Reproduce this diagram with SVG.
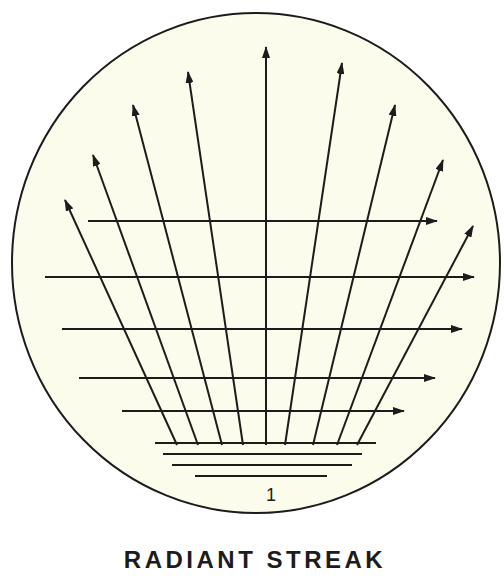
<svg xmlns="http://www.w3.org/2000/svg" width="504" height="579" viewBox="0 0 504 579">
<style>
.ln{stroke:#1c1c1c;stroke-width:2;fill:none}
.ar{stroke:#1c1c1c;stroke-width:2;fill:none;marker-end:url(#ah)}
.lbl{font-family:"Liberation Sans",Arial,sans-serif;fill:#1c1c1c}
</style>
<defs>
<marker id="ah" markerUnits="userSpaceOnUse" markerWidth="12" markerHeight="8" refX="11" refY="4" orient="auto">
<path d="M0,0 L12,4 L0,8 z" fill="#1c1c1c"/>
</marker>
</defs>
<rect width="504" height="579" fill="#ffffff"/>
<g id="plate">
<ellipse cx="256" cy="263" rx="244" ry="250" fill="#fcfcec" stroke="#1c1c1c" stroke-width="2"/>
</g>
<g id="connectors">
<line class="ar" x1="177" y1="445" x2="65" y2="200"/>
<line class="ar" x1="198" y1="445" x2="93" y2="155"/>
<line class="ar" x1="222" y1="445" x2="133" y2="105"/>
<line class="ar" x1="243" y1="445" x2="188" y2="72"/>
<line class="ar" x1="266" y1="445" x2="266" y2="47"/>
<line class="ar" x1="285" y1="445" x2="342" y2="63"/>
<line class="ar" x1="313" y1="445" x2="395" y2="105"/>
<line class="ar" x1="337" y1="445" x2="443" y2="160"/>
<line class="ar" x1="357" y1="445" x2="473" y2="226"/>
<line class="ar" x1="88" y1="221" x2="437" y2="221"/>
<line class="ar" x1="45" y1="277" x2="474" y2="277"/>
<line class="ar" x1="62" y1="329" x2="462" y2="329"/>
<line class="ar" x1="79" y1="378" x2="435" y2="378"/>
<line class="ar" x1="122" y1="411" x2="404" y2="411"/>
<line class="ln" x1="155" y1="443" x2="376" y2="443"/>
<line class="ln" x1="163" y1="454" x2="362" y2="454"/>
<line class="ln" x1="172" y1="465" x2="352" y2="465"/>
<line class="ln" x1="195" y1="476" x2="327" y2="476"/>
</g>
<g id="mark">
<text class="lbl" x="271" y="501" font-size="18" text-anchor="middle">1</text>
</g>
<g id="title">
<text class="lbl" x="255" y="568" font-size="24" font-weight="bold" letter-spacing="3.5" text-anchor="middle">RADIANT STREAK</text>
</g>
</svg>
